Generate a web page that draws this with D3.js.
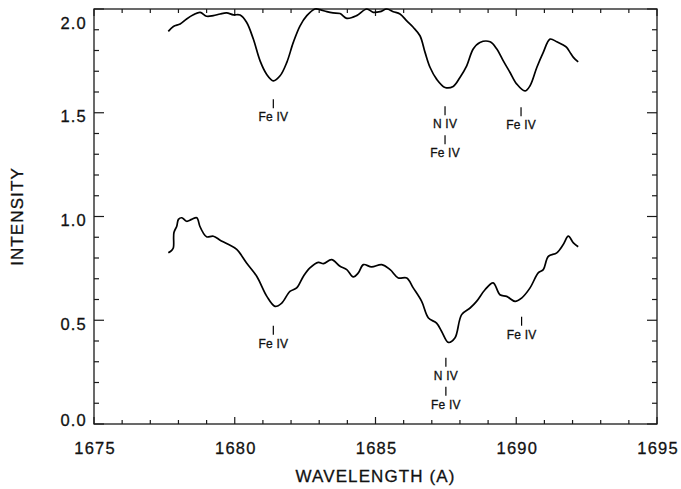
<!DOCTYPE html>
<html>
<head>
<meta charset="utf-8">
<script src="https://cdn.jsdelivr.net/npm/d3@7/dist/d3.min.js"></script>
<style>
  html, body { margin: 0; padding: 0; background: #fff; }
  svg { display: block; }
  text { font-family: "Liberation Sans", Arial, Helvetica, sans-serif; fill: #111; stroke: #111; stroke-width: 0.3px; }
</style>
</head>
<body>
<svg id="chart" width="681" height="489"></svg>
<script>
// ---------------- data ----------------
const xTicks = [1675, 1680, 1685, 1690, 1695];
const yTicks = [0.0, 0.5, 1.0, 1.5, 2.0];
const xLabel = "WAVELENGTH (A)";
const yLabel = "INTENSITY";

// upper spectrum (offset)
const upperWave = [1677.64,1677.82,1678.06,1678.29,1678.53,1678.77,1679.00,1679.24,1679.48,1679.71,1679.95,1680.19,1680.42,1680.66,1680.90,1681.13,1681.37,1681.61,1681.85,1682.08,1682.32,1682.56,1682.85,1683.03,1683.27,1683.49,1683.74,1683.98,1684.33,1684.69,1684.92,1685.16,1685.40,1685.63,1685.87,1686.11,1686.34,1686.58,1686.76,1686.94,1687.17,1687.47,1687.76,1688.00,1688.24,1688.47,1688.71,1689.07,1689.31,1689.54,1689.78,1690.02,1690.31,1690.49,1690.73,1690.96,1691.20,1691.44,1691.67,1691.79,1691.91,1692.03,1692.20];
const upperInt  = [1.892,1.916,1.928,1.952,1.972,1.984,1.965,1.968,1.976,1.981,1.972,1.971,1.936,1.855,1.750,1.686,1.654,1.678,1.743,1.839,1.919,1.968,2.000,1.997,1.987,1.981,1.978,1.955,1.968,2.000,1.984,1.987,2.000,1.987,1.976,1.943,1.912,1.871,1.791,1.718,1.662,1.622,1.627,1.670,1.726,1.807,1.839,1.842,1.807,1.750,1.694,1.638,1.605,1.630,1.718,1.791,1.855,1.842,1.826,1.815,1.791,1.767,1.745];

// lower spectrum
const lowerWave = [1677.64,1677.76,1677.82,1677.84,1677.94,1678.00,1678.12,1678.29,1678.47,1678.65,1678.76,1678.88,1679.00,1679.24,1679.48,1679.71,1680.07,1680.42,1680.78,1681.14,1681.43,1681.67,1681.96,1682.20,1682.44,1682.67,1682.97,1683.15,1683.44,1683.74,1683.98,1684.21,1684.39,1684.57,1684.86,1685.22,1685.52,1685.81,1686.11,1686.34,1686.64,1686.88,1687.17,1687.35,1687.59,1687.82,1688.06,1688.36,1688.59,1688.89,1689.18,1689.42,1689.66,1689.96,1690.19,1690.49,1690.78,1690.96,1691.14,1691.44,1691.67,1691.85,1692.03,1692.20];
const lowerInt  = [0.825,0.837,0.849,0.923,0.953,0.986,0.994,0.977,0.986,0.994,0.953,0.921,0.902,0.905,0.886,0.870,0.841,0.776,0.712,0.615,0.567,0.583,0.639,0.656,0.712,0.752,0.779,0.773,0.792,0.760,0.744,0.709,0.728,0.768,0.757,0.768,0.744,0.704,0.704,0.656,0.591,0.511,0.486,0.446,0.393,0.414,0.527,0.559,0.591,0.647,0.680,0.623,0.615,0.591,0.607,0.656,0.728,0.744,0.808,0.825,0.865,0.905,0.873,0.854];

// line identifications: wavelength, intensity at top of marker, stacked labels
const idWave  = [1681.37, 1687.47, 1690.17, 1681.37, 1687.50, 1690.19];
const idLevel = [1.565, 1.531, 1.527, 0.473, 0.319, 0.517];
const idText  = [["Fe IV"], ["N IV", "Fe IV"], ["Fe IV"], ["Fe IV"], ["N IV", "Fe IV"], ["Fe IV"]];

// ---------------- drawing ----------------
const svg = d3.select("#chart");
const L = 94, R = 657, T = 9, B = 424;
const x = d3.scaleLinear().domain([1675, 1695]).range([L, R]);
const y = d3.scaleLinear().domain([0, 2.0]).range([B, T]);

const axisColor = "#1a1a1a";
const g = svg.append("g");

// frame
g.append("rect").attr("x", L).attr("y", T).attr("width", R - L).attr("height", B - T)
  .attr("fill", "none").attr("stroke", axisColor).attr("stroke-width", 1.3);

const xMinor = d3.range(1675, 1695.01, 1);
const yMinor = d3.range(0, 2.001, 0.1);
const isMajorX = v => Math.abs(v / 5 - Math.round(v / 5)) < 1e-6;
const isMajorY = v => Math.abs(v / 0.5 - Math.round(v / 0.5)) < 1e-6;

// bottom & top ticks
xMinor.forEach(v => {
  const len = isMajorX(v) ? 7 : 4;
  g.append("line").attr("x1", x(v)).attr("x2", x(v)).attr("y1", B).attr("y2", B - len)
    .attr("stroke", axisColor).attr("stroke-width", 1.2);
  g.append("line").attr("x1", x(v)).attr("x2", x(v)).attr("y1", T).attr("y2", T + len)
    .attr("stroke", axisColor).attr("stroke-width", 1.2);
});
// left & right ticks
yMinor.forEach(v => {
  const len = isMajorY(v) ? 10 : 5;
  g.append("line").attr("y1", y(v)).attr("y2", y(v)).attr("x1", L).attr("x2", L + len)
    .attr("stroke", axisColor).attr("stroke-width", 1.2);
  g.append("line").attr("y1", y(v)).attr("y2", y(v)).attr("x1", R).attr("x2", R - len)
    .attr("stroke", axisColor).attr("stroke-width", 1.2);
});

// tick labels via d3 axes (lines hidden)
const xAxis = svg.append("g").attr("transform", `translate(0,${B})`)
  .call(d3.axisBottom(x).tickValues(xTicks).tickFormat(d3.format("d")).tickSize(0).tickPadding(0));
xAxis.select(".domain").remove();
xAxis.selectAll("text").attr("y", 30).attr("dy", 0)
  .attr("font-size", 16.5).attr("letter-spacing", 1.2).attr("dx", 0.6)
  .style("font-family", "'Liberation Sans', Arial, sans-serif").attr("fill", "#111");

const yAxis = svg.append("g").attr("transform", `translate(${L},0)`)
  .call(d3.axisLeft(y).tickValues(yTicks).tickFormat(d3.format(".1f")).tickSize(0).tickPadding(0));
yAxis.select(".domain").remove();
yAxis.selectAll("text")
  .attr("x", -7).attr("dy", d => (d === 0 ? 1 : d === 2 ? 19 : 9) + "px")
  .attr("font-size", 16.5).attr("letter-spacing", 1.2)
  .style("font-family", "'Liberation Sans', Arial, sans-serif").attr("fill", "#111");

// axis titles
svg.append("text").attr("x", (L + R) / 2).attr("y", 482).attr("text-anchor", "middle")
  .attr("font-size", 17).attr("letter-spacing", 1.1).text(xLabel);
svg.append("text").attr("transform", `translate(23,${(T + B) / 2}) rotate(-90)`)
  .attr("text-anchor", "middle").attr("font-size", 17).attr("letter-spacing", 1.1).text(yLabel);

// spectra
const line = d3.line().x(d => x(d[0])).y(d => y(d[1])).curve(d3.curveCatmullRom.alpha(0.5));
const upper = upperWave.map((w, i) => [w, upperInt[i]]);
const lower = lowerWave.map((w, i) => [w, lowerInt[i]]);
[upper, lower].forEach(s => {
  svg.append("path").datum(s).attr("d", line)
    .attr("fill", "none").attr("stroke", "#000").attr("stroke-width", 1.7)
    .attr("stroke-linejoin", "round");
});

// line identifications
idWave.forEach((w, i) => {
  let yy = y(idLevel[i]);
  const cx = x(w);
  idText[i].forEach((t, j) => {
    svg.append("line").attr("x1", cx).attr("x2", cx).attr("y1", yy).attr("y2", yy + 9)
      .attr("stroke", "#000").attr("stroke-width", 1.2);
    const base = yy + 9 + 13;
    svg.append("text").attr("x", cx).attr("y", base).attr("text-anchor", "middle")
      .attr("font-size", 12).attr("letter-spacing", 0.2).text(t);
    yy = base + 7;
  });
});
</script>
</body>
</html>
